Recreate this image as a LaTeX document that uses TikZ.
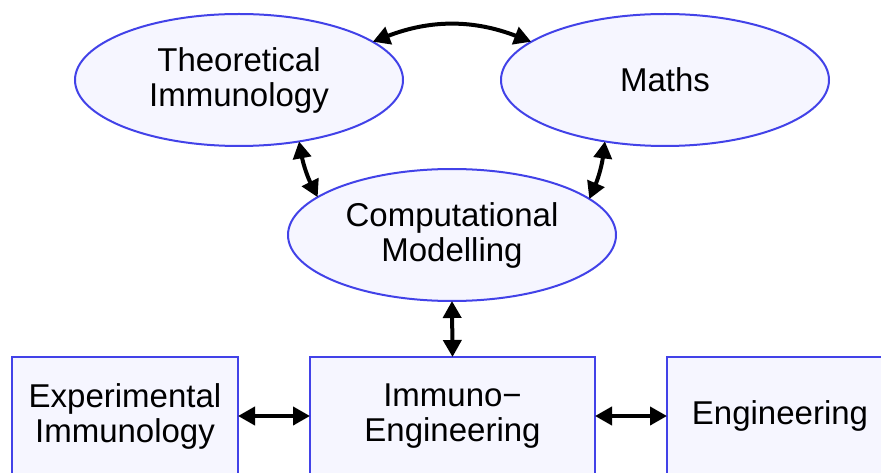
\documentclass[tikz,border=0pt]{standalone}
\usepackage{fontspec}
\setmainfont{Liberation Sans}
\usetikzlibrary{shapes.geometric,arrows.meta}
\definecolor{nodefill}{RGB}{246,246,255}
\definecolor{nodeline}{RGB}{66,66,232}
\begin{document}
\begin{tikzpicture}[x=1pt,y=-1pt,
  every node/.style={font=\fontsize{33}{35}\selectfont, align=center, text=black},
  oval/.style={ellipse, draw=nodeline, fill=nodefill, line width=2pt, minimum width=328pt, minimum height=132pt, inner sep=0pt},
  boxnode/.style={rectangle, draw=nodeline, fill=nodefill, line width=2pt, minimum height=118pt, inner sep=0pt},
  link/.style={line width=4pt, {Triangle[length=17pt,width=18pt]}-{Triangle[length=17pt,width=18pt]}, shorten <=-1pt, shorten >=-1pt}]
\useasboundingbox (0,0) rectangle (881,473);
\begin{scope}
\clip (0,0) rectangle (881,473);
\node[oval] (ti) at (239,80) {Theoretical\\Immunology};
\node[oval] (ma) at (665,80) {Maths};
\node[oval] (cm) at (452,235) {Computational\\Modelling};
\node[boxnode, minimum width=226pt] (ei) at (125,416) {Experimental\\Immunology};
\node[boxnode, minimum width=285pt] (ie) at (452.5,416) {Immuno−\\Engineering};
\node[boxnode, minimum width=226pt] (en) at (780,416) {Engineering};
\end{scope}
\draw[link] (ti.16) to[bend left=21] (ma.164);
\draw[link] (ti.-46) to[bend right=8] (cm.164);
\draw[link] (ma.-134) to[bend left=8] (cm.15);
\draw[link] (cm.south) -- (ie.north);
\draw[link] (ei.east) -- (ie.west);
\draw[link] (ie.east) -- (en.west);
\end{tikzpicture}
\end{document}
